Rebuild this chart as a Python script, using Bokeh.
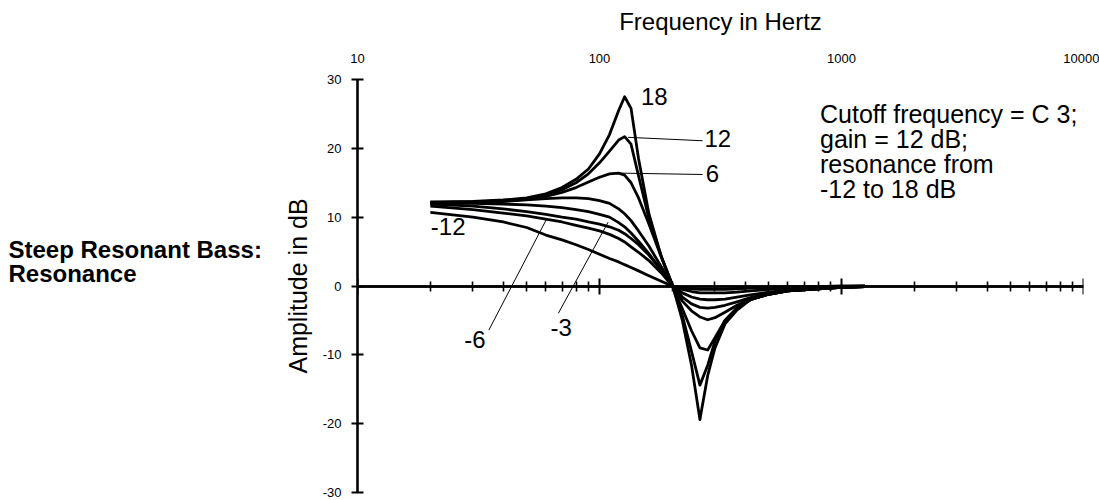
from bokeh.plotting import figure
from bokeh.layouts import row
from bokeh.models import (LogAxis, Label, Range1d, FixedTicker, PrintfTickFormatter)
from bokeh.embed import file_html
from bokeh.resources import INLINE

FONT = "Liberation Sans"

# ---------------- data ----------------
X_TICKS = [10, 100, 1000, 10000]
Y_TICKS = [-30, -20, -10, 0, 10, 20, 30]

freq = [20, 30, 40, 50, 60, 70, 80, 90, 100, 110, 120, 127, 135, 145, 160,
        180, 200, 220, 240, 260, 280, 300, 330, 370, 420, 500, 600, 800, 1000, 1250]

res_18 = [12.2, 12.3, 12.5, 12.8, 13.4, 14.3, 15.5, 17.0, 19.2, 22.0, 25.5, 27.5, 25.8, 18.5, 10.5,
          4.3, 0.2, -5.0, -11.5, -19.4, -13.0, -9.0, -5.5, -3.5, -2.0, -1.2, -0.7, -0.4, -0.2, -0.1]
res_12 = [12.1, 12.2, 12.4, 12.7, 13.2, 14.0, 15.0, 16.3, 17.9, 19.6, 21.2, 21.7, 20.6, 16.0, 9.8,
          4.3, 0.1, -4.3, -9.5, -14.4, -11.5, -8.0, -5.0, -3.2, -2.0, -1.2, -0.7, -0.4, -0.2, -0.1]
res_6 = [12.0, 12.1, 12.3, 12.6, 13.0, 13.6, 14.3, 15.1, 15.8, 16.3, 16.4, 16.1, 15.0, 12.8, 9.0,
         4.2, 0.0, -3.3, -6.5, -9.0, -9.3, -7.5, -5.0, -3.2, -2.0, -1.2, -0.7, -0.4, -0.2, -0.1]
res_3 = [12.1, 12.2, 12.3, 12.5, 12.7, 12.8, 12.8, 12.7, 12.4, 12.0, 11.2, 10.5, 9.5, 8.0, 5.8,
         2.8, 0.0, -2.2, -3.6, -4.5, -4.9, -4.6, -3.8, -2.8, -1.9, -1.2, -0.7, -0.4, -0.2, -0.1]
res_0 = [12.0, 12.0, 11.9, 11.8, 11.6, 11.4, 11.1, 10.8, 10.4, 10.0, 9.2, 8.6, 7.7, 6.5, 4.7,
         2.3, 0.0, -1.6, -2.6, -3.1, -3.2, -3.1, -2.8, -2.3, -1.7, -1.1, -0.7, -0.4, -0.2, -0.1]
res_m3 = [11.9, 11.6, 11.2, 10.8, 10.4, 10.0, 9.7, 9.3, 9.0, 8.6, 8.1, 7.6, 6.9, 6.0, 4.5,
          2.3, 0.0, -1.0, -1.6, -1.9, -2.0, -2.0, -1.9, -1.6, -1.3, -0.9, -0.6, -0.3, -0.2, -0.1]
res_m6 = [11.6, 11.1, 10.6, 10.2, 9.7, 9.3, 8.8, 8.4, 8.0, 7.5, 6.9, 6.4, 5.7, 4.9, 3.7,
          1.9, 0.0, -0.5, -0.8, -1.0, -1.0, -1.0, -1.0, -0.9, -0.7, -0.5, -0.3, -0.2, -0.1, 0.0]
res_m12 = [10.7, 10.0, 9.3, 8.5, 7.4, 6.7, 6.0, 5.3, 4.6, 4.0, 3.5, 3.1, 2.7, 2.2, 1.5,
           0.7, 0.0, -0.3, -0.4, -0.5, -0.5, -0.5, -0.5, -0.4, -0.3, -0.2, -0.1, -0.1, 0.0, 0.0]

curves = [res_18, res_12, res_6, res_3, res_0, res_m3, res_m6, res_m12]

# curve labels: text, frequency, dB
curve_labels = [("18", 148.3, 27.5), ("12", 271.6, 21.4), ("6", 274.5, 16.3),
                ("-12", 20.1, 8.7), ("-6", 27.6, -7.8), ("-3", 62.7, -6.0)]
# leader lines: (f0, dB0, f1, dB1)
leaders = [(131.2, 21.6, 266.7, 21.1), (121.3, 16.4, 266.7, 16.2),
           (60.4, 9.7, 34.9, -6.4), (108.6, 9.28, 67.6, -3.96)]

TITLE = "Steep Resonant Bass:\nResonance"
NOTE = "Cutoff frequency = C 3;\ngain = 12 dB;\nresonance from\n-12 to 18 dB"

# ---------------- left title panel ----------------
pt = figure(width=280, height=500, x_range=Range1d(0, 280), y_range=Range1d(0, 500),
            x_axis_location=None, y_axis_location=None, output_backend="svg",
            toolbar_location=None, min_border=0,
            min_border_left=0, min_border_right=0, min_border_top=0, min_border_bottom=0)
pt.grid.visible = False
pt.outline_line_color = None
pt.add_layout(Label(x=8, y=310, text=TITLE, text_font=FONT, text_font_size="24px",
                    text_font_style="bold", text_align="left", text_baseline="top",
                    text_line_height=0.86, text_color="black"))

# ---------------- main chart ----------------
p = figure(width=819, height=500, x_axis_type="log", x_axis_location="above",
           x_range=Range1d(10, 10000), y_range=Range1d(-30, 30),
           output_backend="svg", toolbar_location=None,
           min_border_left=73, min_border_right=16, min_border_top=79, min_border_bottom=8)
p.grid.visible = False
p.outline_line_color = None

# top axis: labels only
top = p.xaxis[0]
top.ticker = FixedTicker(ticks=X_TICKS, minor_ticks=[])
top.formatter = PrintfTickFormatter(format="%d")
top.axis_line_color = None
top.major_tick_line_color = None
top.minor_tick_line_color = None
top.major_tick_in = 0
top.major_tick_out = 0
top.major_label_standoff = 17
top.major_label_text_font = FONT
top.major_label_text_font_size = "13px"
top.major_label_text_color = "black"
top.axis_label = "Frequency in Hertz"
top.axis_label_text_font = FONT
top.axis_label_text_font_size = "24px"
top.axis_label_text_font_style = "normal"
top.axis_label_text_color = "black"
top.axis_label_standoff = 16

# zero-crossing axis: two fixed axes, one ticking up, one ticking down
minor = [m * d for d in X_TICKS[:-1] for m in range(2, 10)]


def zero_axis():
    return LogAxis(fixed_location=0, ticker=FixedTicker(ticks=X_TICKS, minor_ticks=minor),
                   major_label_text_font_size="1px", major_label_text_color=None,
                   major_label_standoff=0,
                   axis_line_width=2.6, axis_line_color="black",
                   major_tick_in=8, major_tick_out=0, major_tick_line_width=2,
                   minor_tick_in=5, minor_tick_out=0, minor_tick_line_width=1.6,
                   major_tick_line_color="black", minor_tick_line_color="black")


zero_b = zero_axis()
zero_t = zero_axis()
p.add_layout(zero_b, "below")
p.add_layout(zero_t, "above")
p.above = [zero_t] + [a for a in p.above if a is not zero_t]

# y axis
ya = p.yaxis[0]
ya.ticker = FixedTicker(ticks=Y_TICKS, minor_ticks=[])
ya.formatter = PrintfTickFormatter(format="%d")
ya.axis_line_width = 2.6
ya.axis_line_color = "black"
ya.major_tick_in = 6
ya.major_tick_out = 6
ya.major_tick_line_width = 2
ya.major_tick_line_color = "black"
ya.minor_tick_line_color = None
ya.major_label_standoff = 10
ya.major_label_text_font = FONT
ya.major_label_text_font_size = "13px"
ya.major_label_text_color = "black"
ya.axis_label = "Amplitude in dB"
ya.axis_label_text_font = FONT
ya.axis_label_text_font_size = "25px"
ya.axis_label_text_font_style = "normal"
ya.axis_label_text_color = "black"
ya.axis_label_standoff = 8

# curves
for c in curves:
    p.line(freq, c, line_width=2.8, line_color="black", line_join="round")

for f0, d0, f1, d1 in leaders:
    p.line([f0, f1], [d0, d1], line_width=1, line_color="black")

for t, f, d in curve_labels:
    p.add_layout(Label(x=f, y=d, text=t, text_font=FONT, text_font_size="24px",
                       text_align="left", text_baseline="middle", text_color="black"))

p.add_layout(Label(x=815, y=27.05, text=NOTE, text_font=FONT, text_font_size="25px",
                   text_align="left", text_baseline="top", text_line_height=0.9,
                   text_color="black"))

layout = row(pt, p, spacing=0)
open("out.html", "w").write(file_html(layout, INLINE))
